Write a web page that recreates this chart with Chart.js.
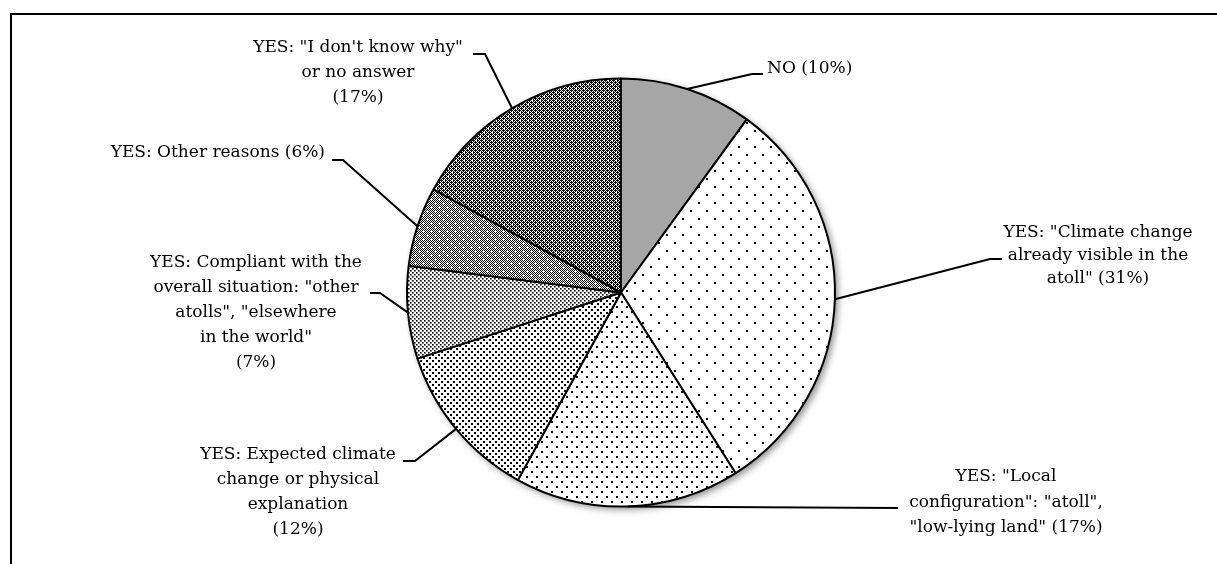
<!DOCTYPE html>
<html>
<head>
<meta charset="utf-8">
<script src="https://cdn.jsdelivr.net/npm/chart.js@4.4.0/dist/chart.umd.min.js"></script>
<style>
  html, body { margin: 0; padding: 0; background: #fff; }
  #wrap { position: relative; width: 1217px; height: 564px; }
</style>
</head>
<body>
<div id="wrap"><canvas id="c" width="1217" height="564"></canvas></div>
<script>
// ---- data ----
const categories = [
  'NO',
  'YES: "Climate change already visible in the atoll"',
  'YES: "Local configuration": "atoll", "low-lying land"',
  'YES: Expected climate change or physical explanation',
  'YES: Compliant with the overall situation: "other atolls", "elsewhere in the world"',
  'YES: Other reasons',
  'YES: "I don\'t know why" or no answer'
];
const values = [10, 31, 17, 12, 7, 6, 17];
const labelLines = [
  ['NO (10%)'],
  ['YES: "Climate change', 'already visible in the', 'atoll" (31%)'],
  ['YES: "Local', 'configuration": "atoll",', '"low-lying land" (17%)'],
  ['YES: Expected climate', 'change or physical', 'explanation', '(12%)'],
  ['YES: Compliant with the', 'overall situation: "other', 'atolls", "elsewhere', 'in the world"', '(7%)'],
  ['YES: Other reasons (6%)'],
  ['YES: "I don\'t know why"', 'or no answer', '(17%)']
];

// ---- label layout (positions only) ----
const labelLayout = [
  { elbow: [752, 74],  end: [763, 74],  tx: 767,  align: 'left',   y0: 69,  lh: 25 },
  { elbow: [990, 259], end: [1002, 259], tx: 1098, align: 'center', y0: 233, lh: 23 },
  { elbow: [898, 508], end: null,        tx: 1006, align: 'center', y0: 477, lh: 25.5 },
  { elbow: [415, 461], end: [403, 461],  tx: 298,  align: 'center', y0: 455, lh: 25 },
  { elbow: [380, 293], end: [370, 293],  tx: 256,  align: 'center', y0: 263, lh: 25 },
  { elbow: [343, 160], end: [332, 160],  tx: 325,  align: 'right',  y0: 153, lh: 25 },
  { elbow: [485, 54],  end: [473, 54],   tx: 358,  align: 'center', y0: 48,  lh: 25 }
];

// ---- fill patterns ----
function makePattern(size, painter) {
  const c = document.createElement('canvas');
  c.width = size; c.height = size;
  const g = c.getContext('2d');
  g.fillStyle = '#fff';
  g.fillRect(0, 0, size, size);
  painter(g, size);
  return g.createPattern(c, 'repeat');
}
function dots(size, pts, d) {
  return makePattern(size, (g) => {
    g.fillStyle = '#000';
    pts.forEach(p => g.fillRect(p[0], p[1], d, d));
  });
}
function checker(size, extraBlack, whites) {
  return makePattern(size, (g, s) => {
    g.fillStyle = '#000';
    for (let y = 0; y < s; y++) for (let x = 0; x < s; x++) {
      if ((x + y) % 2 === 0 || extraBlack(x, y)) g.fillRect(x, y, 1, 1);
    }
    g.fillStyle = '#fff';
    whites.forEach(p => g.fillRect(p[0], p[1], p[2], p[3]));
  });
}
const fills = [
  '#a6a6a6',
  dots(16, [[2, 2], [10, 10]], 2),
  dots(10, [[1, 1], [6, 6]], 2),
  dots(6, [[0, 0], [3, 3]], 2),
  dots(4, [[0, 0], [2, 2]], 1.6),
  checker(8, () => false, [[3, 2, 1, 3], [2, 3, 3, 1], [7, 6, 1, 3], [6, 7, 3, 1]]),
  checker(8, (x, y) => ((x % 4 === 1 && y % 4 === 0) || (x % 4 === 3 && y % 4 === 2)), [[4, 4, 1, 1], [0, 0, 1, 1]])
];

const FONT = '17px "DejaVu Serif"';

const pieShadow = {
  id: 'pieShadow',
  beforeDatasetsDraw(chart) {
    const arc = chart.getDatasetMeta(0).data[0];
    if (!arc) return;
    const { x, y, outerRadius } = arc.getProps(['x', 'y', 'outerRadius'], true);
    const ctx = chart.ctx;
    ctx.save();
    ctx.shadowColor = 'rgba(0,0,0,0.45)';
    ctx.shadowBlur = 7;
    ctx.shadowOffsetX = 3;
    ctx.shadowOffsetY = 3;
    ctx.fillStyle = '#fff';
    ctx.beginPath();
    ctx.arc(x, y, outerRadius, 0, Math.PI * 2);
    ctx.fill();
    ctx.restore();
  }
};

const leaderLabels = {
  id: 'leaderLabels',
  afterDatasetsDraw(chart) {
    const ctx = chart.ctx;
    const meta = chart.getDatasetMeta(0);
    ctx.save();
    ctx.strokeStyle = '#000';
    ctx.lineWidth = 2;
    ctx.fillStyle = '#000';
    ctx.font = FONT;
    ctx.textBaseline = 'middle';
    meta.data.forEach((arc, i) => {
      const p = arc.getProps(['x', 'y', 'startAngle', 'endAngle', 'outerRadius'], true);
      const mid = (p.startAngle + p.endAngle) / 2;
      const sx = p.x + Math.cos(mid) * p.outerRadius;
      const sy = p.y + Math.sin(mid) * p.outerRadius;
      const L = labelLayout[i];
      ctx.beginPath();
      ctx.moveTo(sx, sy);
      ctx.lineTo(L.elbow[0], L.elbow[1]);
      if (L.end) ctx.lineTo(L.end[0], L.end[1]);
      ctx.stroke();
      ctx.textAlign = L.align;
      labelLines[i].forEach((t, k) => ctx.fillText(t, L.tx, L.y0 + k * L.lh));
    });
    ctx.restore();
  }
};

const frame = {
  id: 'frame',
  afterDraw(chart) {
    const ctx = chart.ctx;
    ctx.save();
    ctx.strokeStyle = '#000';
    ctx.lineWidth = 2;
    ctx.beginPath();
    ctx.moveTo(11, 564);
    ctx.lineTo(11, 14);
    ctx.lineTo(1217, 14);
    ctx.stroke();
    ctx.restore();
  }
};

new Chart(document.getElementById('c'), {
  type: 'pie',
  data: {
    labels: categories,
    datasets: [{
      data: values,
      backgroundColor: fills,
      borderColor: '#000',
      borderWidth: 2,
      hoverOffset: 0
    }]
  },
  options: {
    responsive: false,
    devicePixelRatio: 1,
    animation: false,
    radius: 214,
    layout: { padding: { top: 78, bottom: 57, left: 25, right: 0 } },
    plugins: { legend: { display: false }, tooltip: { enabled: false } }
  },
  plugins: [pieShadow, leaderLabels, frame]
});
</script>
</body>
</html>
